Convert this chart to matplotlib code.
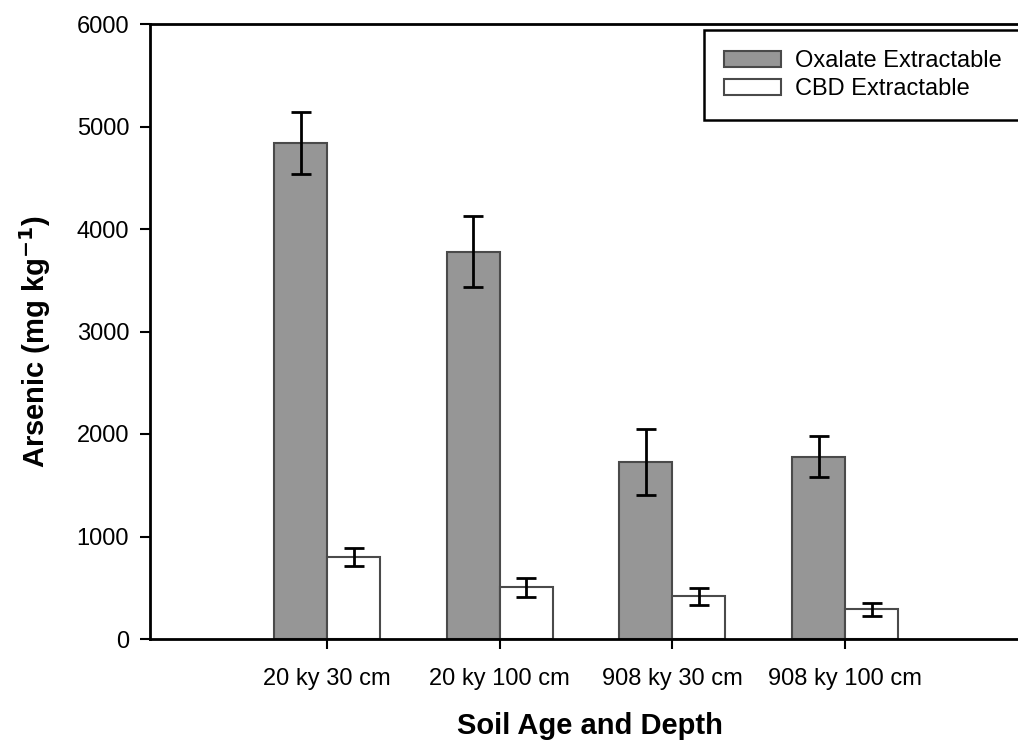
import matplotlib
matplotlib.use("Agg")
import matplotlib.pyplot as plt
import numpy as np

categories = ["20 ky 30 cm", "20 ky 100 cm", "908 ky 30 cm", "908 ky 100 cm"]
oxalate = [4840, 3780, 1725, 1780]
oxalate_err = [305, 345, 320, 200]
cbd = [800, 505, 415, 290]
cbd_err = [85, 95, 85, 62]

plt.rcParams["font.family"] = ["Liberation Sans", "DejaVu Sans"]

W, H = 1018, 741
fig = plt.figure(figsize=(W / 100, H / 100), dpi=100)
ax = fig.add_axes([150 / W, 102 / H, 880 / W, 615 / H])

x = np.arange(1, len(categories) + 1)
bw = 0.307
ax.bar(x - bw / 2, oxalate, bw, color="#969696", edgecolor="#4a4a4a", linewidth=1.5,
       label="Oxalate Extractable", zorder=2)
ax.bar(x + bw / 2, cbd, bw, color="white", edgecolor="#4a4a4a", linewidth=1.5,
       label="CBD Extractable", zorder=2)
ax.errorbar(x - bw / 2, oxalate, yerr=oxalate_err, fmt="none", ecolor="black",
            elinewidth=2, capsize=7.5, capthick=2, zorder=3)
ax.errorbar(x + bw / 2, cbd, yerr=cbd_err, fmt="none", ecolor="black",
            elinewidth=2, capsize=7.5, capthick=2, zorder=3)

ax.set_xlim(-0.025, 5.07)
ax.set_ylim(0, 6000)
ax.set_yticks(range(0, 6001, 1000))
ax.set_xticks(x)
ax.set_xticklabels(categories)
ax.tick_params(axis="both", direction="out", length=7, width=1.5, labelsize=17, pad=8)
ax.tick_params(axis="x", pad=14)
for s in ("left", "bottom", "top"):
    ax.spines[s].set_linewidth(2)
ax.spines["right"].set_visible(False)

ax.set_xlabel("Soil Age and Depth", fontsize=21, fontweight="bold", labelpad=16)
ax.set_ylabel("Arsenic (mg kg$^{\\mathbf{-1}}$)", fontsize=21, fontweight="bold")
ax.yaxis.set_label_coords(-0.11, 0.483)

leg = ax.legend(loc="upper left", bbox_to_anchor=(0.6295, 0.99), fontsize=17,
                frameon=True, fancybox=False, edgecolor="black", framealpha=1,
                handlelength=2.4, handleheight=0.7, handletextpad=0.6,
                borderpad=0.85, labelspacing=0.25, borderaxespad=0)
leg.get_frame().set_linewidth(1.8)

fig.savefig("out.png", dpi=100)
